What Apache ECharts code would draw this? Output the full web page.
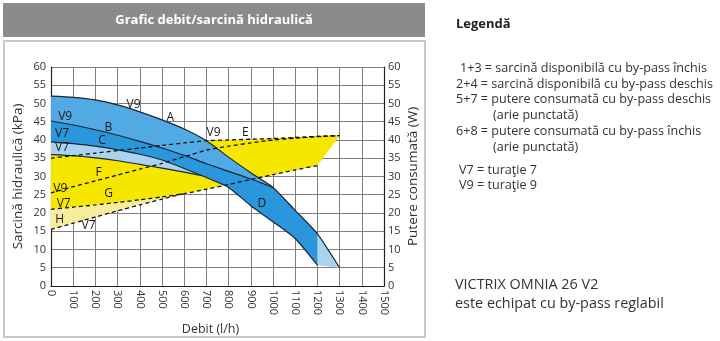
<!DOCTYPE html>
<html><head><meta charset="utf-8">
<script src="https://cdn.jsdelivr.net/npm/echarts@6/dist/echarts.min.js"></script>
<style>html,body{margin:0;padding:0;background:#fff}#c{width:720px;height:341px}</style>
</head><body><div id="c"></div>
<script>
// ---- data (x: debit l/h, y: kPa / W) ----
const xMin = 0, xMax = 1500, xStep = 100;
const yMin = 0, yMax = 60, yStep = 5;
// pressure curves
const P1 = [[0,52],[100,51.7],[200,51],[300,49.6],[400,47.7],[500,45.5],[600,43],[700,39.8],[800,35.3],[900,31],[1000,27],[1100,20.7],[1200,14.3],[1300,5]];
const P2 = [[0,45.2],[100,44.1],[200,42.8],[300,41.3],[400,39.6],[500,37.8],[600,35.8],[700,33.5],[800,31.4],[900,29.3],[1000,27]];
const P3 = [[0,39.5],[100,39],[200,38.3],[300,37.3],[400,36.1],[500,34.5],[600,32.2],[700,29.7],[800,27],[900,22],[1000,17.6],[1100,13],[1200,5.7]];
const P4 = [[0,36],[100,35.7],[200,35.1],[300,34.3],[400,33.3],[500,32.3],[600,31.2],[680,30.2]];
// power curves
const E = [[0,35],[100,35.7],[200,36.4],[300,37.1],[400,37.8],[500,38.5],[600,39.2],[700,39.8],[800,40],[900,40.2],[1000,40.4],[1100,40.7],[1200,41],[1300,41.2]];
const F = [[0,25.5],[100,27.2],[200,28.8],[300,30.4],[400,32],[500,33.6],[600,35.4],[700,37.2],[800,38.3],[900,39.2],[1000,40],[1100,40.5],[1200,40.9],[1300,41.2]];
const G = [[0,21],[100,21.6],[200,22.2],[300,22.9],[400,23.6],[500,24.4],[600,25.3],[700,26.5],[800,27.8],[900,29.2],[1000,30.5],[1100,31.8],[1200,33]];
const H = [[0,15.5],[100,17.2],[200,18.9],[300,20.6],[400,22.2],[500,23.8],[600,25.3]];
const yellowTopLeft = [[0,36]];
// annotations [x, y, text]
const marks = [[372,49.8,'V9'],[537,46.2,'A'],[64,46.4,'V9'],[259,43.3,'B'],[50,41.7,'V7'],[230,39.8,'C'],[50,37.8,'V7'],[214,31.1,'F'],[42,26.8,'V9'],[732,41.9,'V9'],[875,41.9,'E'],[259,25.2,'G'],[57,22.7,'V7'],[39,18.2,'H'],[169,16.6,'V7'],[950,22.7,'D']];
const title = 'Grafic debit/sarcină hidraulică';
const legendTitle = 'Legendă';
const legendLines = ['1+3 = sarcină disponibilă cu by-pass închis','2+4 = sarcină disponibilă cu by-pass deschis','5+7 = putere consumată cu by-pass deschis','(arie punctată)','6+8 = putere consumată cu by-pass închis','(arie punctată)','V7 = turaţie 7','V9 = turaţie 9'];
const noteLines = ['VICTRIX OMNIA 26 V2','este echipat cu by-pass reglabil'];

// ---- build ----
const rev = a => a.slice().reverse();
const upTo = (a, x) => a.filter(p => p[0] <= x);
const from = (a, x) => a.filter(p => p[0] >= x);

const yellowPoly = yellowTopLeft.concat(from(E,700), rev(G));
const paleYellowPoly = G.slice(0, H.length).concat(rev(H));
const bluePoly = upTo(P1,1200).concat(rev(P3));
const topBluePoly = upTo(P1,1000).concat(rev(P2));
const lightBluePoly = P3.filter(p=>p[0]<=600).concat([[680,30.2]], rev(P4));
const tailPoly = [P1[P1.length-2], P1[P1.length-1], P3[P3.length-1]];

function poly(pts, color, z){
  return {type:'custom', coordinateSystem:'cartesian2d', silent:true, z:z, data:[[0,0]],
    renderItem:(p, api)=>({type:'polygon', shape:{points: pts.map(q=>api.coord(q))}, style:{fill:color}})};
}
function line(pts, dashed, z){
  return {type:'line', data:pts, symbol:'none', silent:true, z:z, smooth:0.2,
    lineStyle:{color: dashed ? '#111' : '#1c2433', width: dashed ? 1.3 : 1.2, type: dashed ? [4,3] : 'solid'}};
}
const font = '"Open Sans", "Noto Sans", sans-serif';
const axisLbl = {color:'#333', fontSize:11, fontFamily:font};
const nameStyle = {color:'#333', fontSize:13.5, fontFamily:font};

const chart = echarts.init(document.getElementById('c'), null, {renderer:'canvas'});
chart.setOption({
  animation:false,
  grid:{left:51, right:336, top:67, bottom:53, containLabel:false},
  xAxis:{type:'value', min:xMin, max:xMax, interval:xStep,
    name:'Debit (l/h)', nameLocation:'middle', nameGap:31, nameTextStyle:Object.assign({fontSize:12.5, padding:[0,14,0,0]}, {color:'#333', fontFamily:font}),
    axisLine:{lineStyle:{color:'#222', width:1.2}}, axisTick:{show:false},
    axisLabel:Object.assign({rotate:-90, margin:4, formatter:v=>String(v)}, axisLbl),
    splitLine:{show:true, lineStyle:{color:'#808080', width:1}}},
  yAxis:[
    {type:'value', min:yMin, max:yMax, interval:yStep, name:'Sarcină hidraulică (kPa)', nameLocation:'middle', nameGap:26, nameRotate:90,
      nameTextStyle:nameStyle,
      axisLine:{show:true, lineStyle:{color:'#222', width:1.2}}, axisTick:{show:false},
      axisLabel:Object.assign({margin:5}, axisLbl), splitLine:{show:true, lineStyle:{color:'#808080', width:1}}},
    {type:'value', min:yMin, max:yMax, interval:yStep, position:'right', name:'Putere consumată (W)', nameLocation:'middle', nameGap:22, nameRotate:90,
      nameTextStyle:nameStyle,
      axisLine:{show:true, lineStyle:{color:'#222', width:1.2}}, axisTick:{show:false},
      axisLabel:Object.assign({margin:4}, axisLbl), splitLine:{show:false}}
  ],
  series:[
    poly(yellowPoly, '#f7e600', 2),
    poly(paleYellowPoly, '#f6ee9c', 3),
    poly(bluePoly, '#2a96dc', 4),
    poly(topBluePoly, '#52aae4', 5),
    poly(lightBluePoly, '#a9d3ef', 6),
    poly(tailPoly, '#a9d3ef', 6),
    line(P1,false,10), line(P2,false,10), line(P3,false,10), line(P4,false,10),
    line(E,true,11), line(F,true,11), line(G,true,11), line(H,true,11),
    {type:'custom', coordinateSystem:'cartesian2d', silent:true, z:20, data:marks,
      renderItem:(p, api)=>{ const m = marks[p.dataIndex]; const c = api.coord([m[0], m[1]]);
        return {type:'text', x:c[0], y:c[1], style:{text:m[2], fill:'#1a1a1a', font:'12px '+font, align:'center', verticalAlign:'middle'}}; }}
  ],
  graphic:[
    {type:'rect', left:3, top:3, shape:{width:422, height:34}, style:{fill:'#8b8b8b'}, z:0},
    {type:'text', x:214, y:20, style:{text:title, fill:'#fff', font:'bold 13px '+font, align:'center', verticalAlign:'middle'}},
    {type:'rect', x:4, y:41, shape:{width:421, height:296}, style:{fill:'none', stroke:'#c9c9c9', lineWidth:2}, z:0},
    {type:'text', x:456, y:24, style:{text:legendTitle, fill:'#222', font:'bold 13px '+font, verticalAlign:'middle'}},
    {type:'text', x:460, y:68, style:{text:legendLines[0], fill:'#333', font:'12.6px '+font, verticalAlign:'middle'}},
    {type:'text', x:456, y:84, style:{text:legendLines[1], fill:'#333', font:'12.6px '+font, verticalAlign:'middle'}},
    {type:'text', x:456, y:99, style:{text:legendLines[2], fill:'#333', font:'12.6px '+font, verticalAlign:'middle'}},
    {type:'text', x:493, y:115, style:{text:legendLines[3], fill:'#333', font:'12.6px '+font, verticalAlign:'middle'}},
    {type:'text', x:456, y:131, style:{text:legendLines[4], fill:'#333', font:'12.6px '+font, verticalAlign:'middle'}},
    {type:'text', x:493, y:147, style:{text:legendLines[5], fill:'#333', font:'12.6px '+font, verticalAlign:'middle'}},
    {type:'text', x:459, y:170, style:{text:legendLines[6], fill:'#333', font:'12.6px '+font, verticalAlign:'middle'}},
    {type:'text', x:459, y:185, style:{text:legendLines[7], fill:'#333', font:'12.6px '+font, verticalAlign:'middle'}},
    {type:'text', x:455, y:285, style:{text:noteLines[0], fill:'#333', font:'14.4px '+font, verticalAlign:'middle'}},
    {type:'text', x:455, y:304, style:{text:noteLines[1], fill:'#333', font:'14.4px '+font, verticalAlign:'middle'}}
  ]
});
</script></body></html>
